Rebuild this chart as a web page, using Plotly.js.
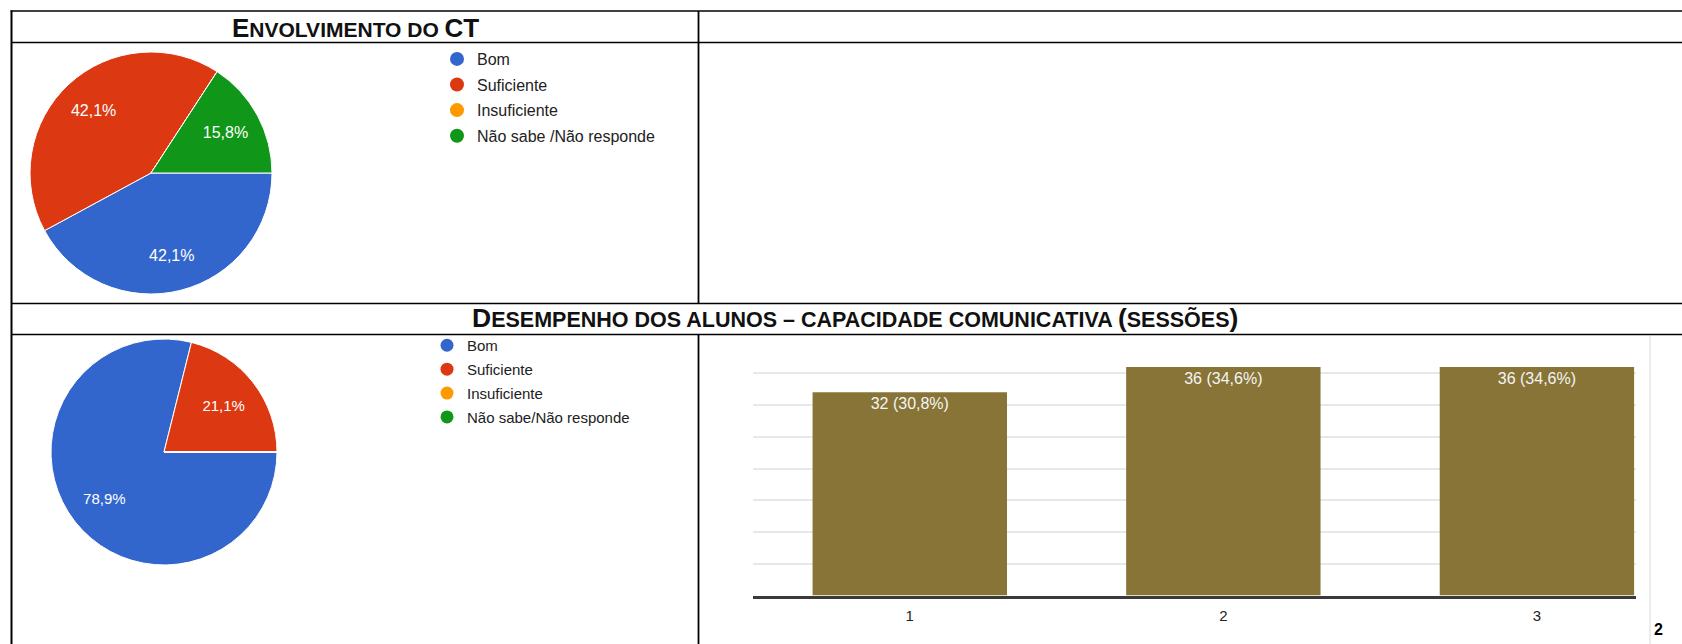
<!DOCTYPE html>
<html>
<head>
<meta charset="utf-8">
<script src="https://cdn.plot.ly/plotly-3.0.1.min.js"></script>
<style>html,body{margin:0;padding:0;background:#fff;}#chart{width:1682px;height:644px;}</style>
</head>
<body>
<div id="chart"></div>
<script>
// ---- data ----
const pieCategories1 = ['Bom', 'Suficiente', 'Insuficiente', 'Não sabe /Não responde'];
const pieValues1 = [42.1, 42.1, 0, 15.8];
const pieCategories2 = ['Bom', 'Suficiente', 'Insuficiente', 'Não sabe/Não responde'];
const pieValues2 = [78.9, 21.1, 0, 0];
const pieColors = ['#3366cc', '#dc3912', '#ff9900', '#109618'];
const sessions = ['1', '2', '3'];
const sessionCounts = [32, 36, 36];
const sessionPercents = [30.8, 34.6, 34.6];
const title1 = 'ENVOLVIMENTO DO CT';
const title2 = 'DESEMPENHO DOS ALUNOS – CAPACIDADE COMUNICATIVA (SESSÕES)';
const pageNumber = '2';

// ---- helpers ----
const W = 1682, H = 644;
const px = x => x / W;
const py = y => 1 - y / H;
const fmt = v => v.toFixed(1).replace('.', ',');
const FONT = 'Liberation Sans, Arial, sans-serif';

function pieTraces(labels, values, dom, hole, fsize) {
  const base = {
    type: 'pie', labels: labels, values: values, sort: false,
    direction: 'clockwise', rotation: 90, domain: dom, showlegend: false
  };
  return [
    Object.assign({}, base, {
      marker: {colors: pieColors, line: {color: '#ffffff', width: 1}},
      textinfo: 'none', hoverinfo: 'label+percent'
    }),
    // transparent ring carrying the slice labels (places them at ~0.7 r like the original)
    Object.assign({}, base, {
      hole: hole,
      marker: {colors: pieColors.map(() => 'rgba(0,0,0,0)'), line: {width: 0}},
      text: values.map(v => v ? fmt(v) + '%' : ''), textinfo: 'text',
      textposition: 'inside', insidetextorientation: 'horizontal',
      textfont: {color: '#ffffff', size: fsize, family: FONT}, hoverinfo: 'skip'
    })
  ];
}

const traces = [];
traces.push(...pieTraces(pieCategories1, pieValues1,
  {x: [px(30), px(272)], y: [py(294), py(52)]}, 0.4, 16));
traces.push(...pieTraces(pieCategories2, pieValues2,
  {x: [px(51), px(277)], y: [py(565), py(339)]}, 0.34, 15));

// legend entries (circle markers)
pieCategories1.forEach((c, i) => traces.push({
  type: 'scatter', mode: 'markers', x: [null], y: [null], name: c,
  marker: {color: pieColors[i], size: 14, symbol: 'circle'},
  xaxis: 'x2', yaxis: 'y2', legend: 'legend', legendgroup: 'a' + i, showlegend: true
}));
pieCategories2.forEach((c, i) => traces.push({
  type: 'scatter', mode: 'markers', x: [null], y: [null], name: c,
  marker: {color: pieColors[i], size: 13, symbol: 'circle'},
  xaxis: 'x2', yaxis: 'y2', legend: 'legend2', legendgroup: 'b' + i, showlegend: true
}));
traces.push({
  type: 'bar', x: sessions, y: sessionCounts,
  text: sessionCounts.map((c, i) => c + ' (' + fmt(sessionPercents[i]) + '%)'),
  textposition: 'inside', insidetextanchor: 'end', textangle: 0,
  textfont: {color: '#f4f4f4', size: 16, family: FONT},
  marker: {color: '#877436'}, showlegend: false, hoverinfo: 'x+y'
});

const line = (x0, y0, x1, y1, w, c) => ({type: 'line', xref: 'paper', yref: 'paper',
  x0: px(x0), y0: py(y0), x1: px(x1), y1: py(y1), line: {color: c || '#000', width: w || 1.5}});

const big = (s, f) => '<span style="font-size:' + f + 'px">' + s + '</span>';
const iOpen = title2.indexOf('('), iClose = title2.indexOf(')');
const lastSp = title1.lastIndexOf(' ') + 1;
const title1Html = '<b>' + big(title1[0], 26) + title1.slice(1, lastSp) + big(title1.slice(lastSp), 26) + '</b>';
const title2Html = '<b>' + big(title2[0], 26.5) + title2.slice(1, iOpen) + big('(', 26.5) +
  title2.slice(iOpen + 1, iClose) + big(')', 26.5) + '</b>';

const layout = {
  width: W, height: H, margin: {l: 0, r: 0, t: 0, b: 0},
  paper_bgcolor: '#ffffff', plot_bgcolor: '#ffffff',
  font: {family: FONT, color: '#222'},
  bargap: 0.38,
  xaxis: {domain: [px(753), px(1636)], range: [-0.5, 2.316], type: 'category',
    showgrid: false, showline: true, linecolor: '#3a3a3a', linewidth: 3,
    ticks: 'outside', ticklen: 4, tickcolor: 'rgba(0,0,0,0)',
    tickfont: {size: 15, color: '#222', family: FONT}, zeroline: false, fixedrange: true},
  yaxis: {domain: [py(595.5), py(341.5)], range: [0, 40], dtick: 5,
    showgrid: true, gridcolor: '#e8e8e8', gridwidth: 2, showticklabels: false,
    zeroline: false, ticks: '', fixedrange: true},
  xaxis2: {visible: false, domain: [0, 0.01], anchor: 'y2'},
  yaxis2: {visible: false, domain: [0, 0.01], anchor: 'x2'},
  legend: {x: px(437), y: py(42), xanchor: 'left', yanchor: 'top', bgcolor: 'rgba(0,0,0,0)',
    font: {size: 16, color: '#222', family: FONT}, tracegroupgap: 1.8, traceorder: 'grouped', itemclick: false},
  legend2: {x: px(427), y: py(329), xanchor: 'left', yanchor: 'top', bgcolor: 'rgba(0,0,0,0)',
    font: {size: 15, color: '#222', family: FONT}, tracegroupgap: 1.4, traceorder: 'grouped', itemclick: false},
  shapes: [
    line(10.5, 11, W, 11, 1.6),
    line(11.5, 10.5, 11.5, H, 2),
    line(11, 42.5, W, 42.5, 1.6),
    line(698.5, 11, 698.5, 303.5, 1.8),
    line(11, 303.5, W, 303.5, 1.4),
    line(11, 334.5, W, 334.5, 1.4),
    line(698.5, 334.5, 698.5, H, 1.8),
    line(1650, 336, 1650, H, 2, '#ececec')
  ],
  annotations: [
    {xref: 'paper', yref: 'paper', x: px(355), y: py(28), xanchor: 'center', yanchor: 'middle', showarrow: false,
     font: {size: 21, color: '#111', family: FONT}, text: title1Html},
    {xref: 'paper', yref: 'paper', x: px(855), y: py(318), xanchor: 'center', yanchor: 'middle', showarrow: false,
     font: {size: 21.5, color: '#111', family: FONT}, text: title2Html},
    {xref: 'paper', yref: 'paper', x: px(1658), y: py(629), xanchor: 'center', yanchor: 'middle', showarrow: false,
     font: {size: 16, color: '#000', family: FONT}, text: '<b>' + pageNumber + '</b>'}
  ]
};

Plotly.newPlot('chart', traces, layout, {displayModeBar: false, staticPlot: true});
</script>
</body>
</html>
